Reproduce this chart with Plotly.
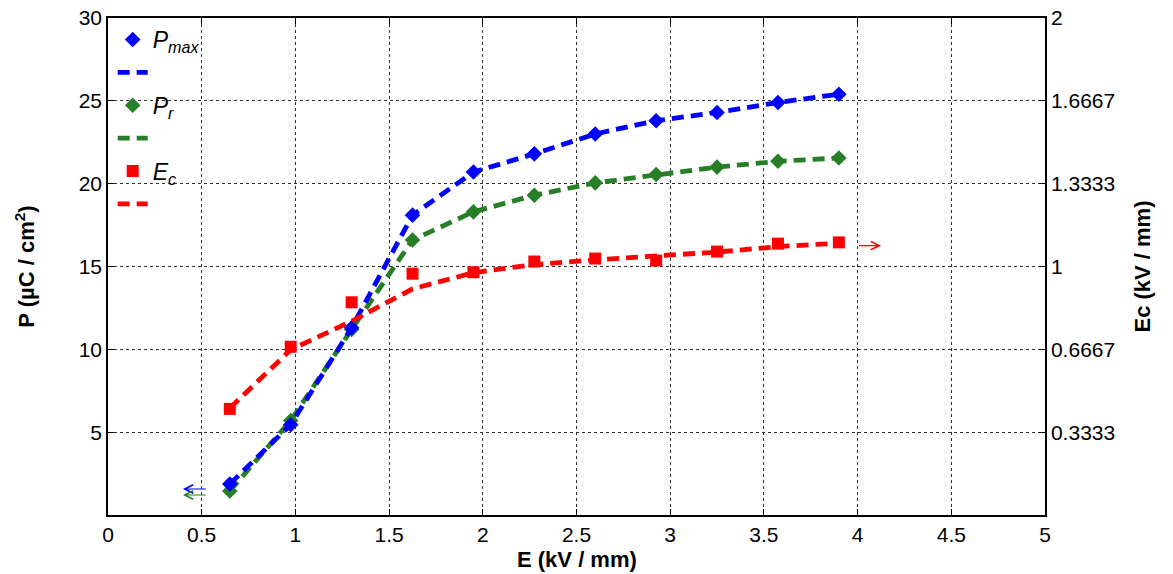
import plotly.graph_objects as go

# Applied field (kV/mm)
E = [0.65, 0.975, 1.3, 1.625, 1.95, 2.275, 2.6, 2.925, 3.25, 3.575, 3.9]
# Maximum and remanent polarisation (µC/cm²)
P_max = [1.87, 5.45, 11.3, 18.1, 20.7, 21.8, 23.0, 23.8, 24.3, 24.9, 25.4]
P_r = [1.45, 5.7, 11.2, 16.6, 18.3, 19.3, 20.05, 20.55, 21.0, 21.35, 21.55]
# Coercive field (kV/mm), measured and fitted
E_c = [0.427, 0.677, 0.856, 0.971, 0.977, 1.02, 1.032, 1.024, 1.06, 1.092, 1.097]
E_c_fit = [0.43, 0.665, 0.78, 0.91, 0.975, 1.008, 1.027, 1.043, 1.058, 1.08, 1.094]

x_ticks = [0, 0.5, 1, 1.5, 2, 2.5, 3, 3.5, 4, 4.5, 5]
x_labels = ["0", "0.5", "1", "1.5", "2", "2.5", "3", "3.5", "4", "4.5", "5"]
y_ticks = [5, 10, 15, 20, 25, 30]
y2_ticks = [1 / 3, 2 / 3, 1, 4 / 3, 5 / 3, 2]
y2_labels = ["0.3333", "0.6667", "1", "1.3333", "1.6667", "2"]

BLUE = "#0000ff"
GREEN = "#267f26"
RED = "#ff0000"
FONT = "Liberation Sans, Arial, sans-serif"
DASH = "12px,7px"

fig = go.Figure()

def add_series(y, color, symbol, size, label, yaxis, group, line_y=None):
    fig.add_trace(go.Scatter(
        x=E, y=y, mode="markers", yaxis=yaxis, name=label,
        legendgroup=group + "m",
        marker=dict(symbol=symbol, size=size, color=color),
    ))
    fig.add_trace(go.Scatter(
        x=E, y=line_y if line_y is not None else y, mode="lines", yaxis=yaxis,
        name="&nbsp;", legendgroup=group + "l",
        line=dict(color=color, width=4.8, dash=DASH),
    ))

add_series(E_c, RED, "square", 12, "<i>E</i><sub><i>c</i></sub>", "y2", "ec", E_c_fit)
add_series(P_r, GREEN, "diamond", 12, "<i>P</i><sub><i>r</i></sub>", "y", "pr")
add_series(P_max, BLUE, "diamond", 12, "<i>P</i><sub><i>max</i></sub>", "y", "pm")

# Order of legend entries: P_max, line, P_r, line, E_c, line
order = {"pmm": 1, "pml": 2, "prm": 3, "prl": 4, "ecm": 5, "ecl": 6}
for tr in fig.data:
    tr.legendrank = order[tr.legendgroup]

# Arrows showing which axis each group of curves belongs to
def axis_arrow(x_tip, x_tail, y, yref, color):
    fig.add_annotation(
        x=x_tip, y=y, ax=x_tail, ay=y, xref="x", yref=yref, axref="x", ayref=yref,
        text="", showarrow=True, arrowhead=5, arrowsize=1.5, arrowwidth=1.1,
        arrowcolor=color, standoff=0, startstandoff=0,
    )

axis_arrow(0.40, 0.53, 1.57, "y", BLUE)
axis_arrow(0.40, 0.53, 1.21, "y", GREEN)
axis_arrow(4.125, 4.0, 1.084, "y2", RED)

# x-axis title placed just under the tick labels
fig.add_annotation(
    x=0.5, y=-0.09, xref="paper", yref="paper", xanchor="center", yanchor="middle",
    text="<b>E (kV / mm)</b>", showarrow=False, font=dict(size=22, family=FONT),
)

fig.update_layout(
    width=1173, height=574,
    margin=dict(l=108, r=128, t=18, b=59),
    paper_bgcolor="white", plot_bgcolor="white",
    font=dict(family=FONT, size=21, color="black"),
    showlegend=True,
    legend=dict(
        x=0.005, y=1.0, xanchor="left", yanchor="top",
        bgcolor="rgba(0,0,0,0)", borderwidth=0,
        font=dict(size=23, family=FONT),
        tracegroupgap=5, traceorder="normal",
    ),
    xaxis=dict(
        range=[0, 5], tickvals=x_ticks, ticktext=x_labels, automargin=False,
        showline=True, linecolor="black", linewidth=1.5, mirror="ticks",
        ticks="inside", ticklen=6, tickcolor="black",
        showgrid=True, gridcolor="#333333", griddash="dot", gridwidth=1,
        zeroline=False,
    ),
    yaxis=dict(
        range=[0, 30], tickvals=y_ticks, automargin=False,
        showline=True, linecolor="black", linewidth=1.5,
        ticks="inside", ticklen=6, tickcolor="black",
        showgrid=True, gridcolor="#333333", griddash="dot", gridwidth=1,
        zeroline=False,
        title=dict(text="<b>P (µC / cm<sup>2</sup>)</b>", font=dict(size=22), standoff=38),
    ),
    yaxis2=dict(
        range=[0, 2], tickvals=y2_ticks, ticktext=y2_labels, automargin=False,
        overlaying="y", side="right",
        showline=True, linecolor="black", linewidth=1.5,
        ticks="inside", ticklen=6, tickcolor="black",
        showgrid=False, zeroline=False,
        title=dict(text="<b>Ec (kV / mm)</b>", font=dict(size=22), standoff=20),
    ),
)

fig.write_html("out.html")
